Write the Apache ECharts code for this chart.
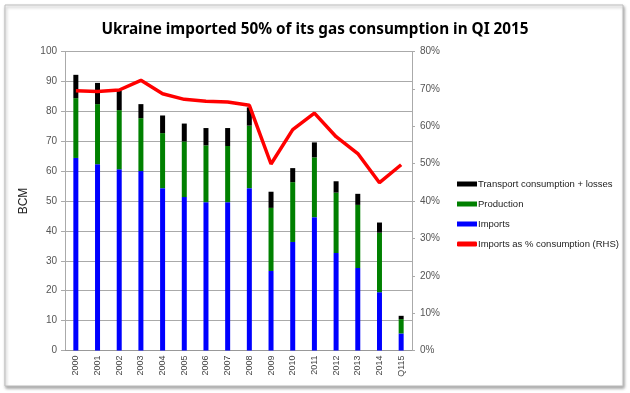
<!DOCTYPE html>
<html><head><meta charset="utf-8">
<script src="https://cdn.jsdelivr.net/npm/echarts@6/dist/echarts.min.js"></script>
<style>html,body{margin:0;padding:0;background:#fff}#c{width:630px;height:393px}</style>
</head><body><div id="c"></div>
<script>
const categories = ['2000','2001','2002','2003','2004','2005','2006','2007','2008','2009','2010','2011','2012','2013','2014','Q115'];
const imports = [64.4,62.3,60.6,60.0,54.3,51.3,49.6,49.6,54.3,26.6,36.3,44.6,32.6,27.6,19.5,5.7];
const production = [20.0,20.1,19.8,17.7,18.4,18.6,19.0,18.8,20.9,21.1,20.0,20.0,20.2,21.1,19.9,4.8];
const transport = [7.8,7.1,6.6,4.7,5.9,6.0,5.8,6.0,6.1,5.4,4.7,5.0,3.8,3.7,3.4,1.1];
const importsPct = [0.695,0.693,0.697,0.723,0.687,0.672,0.667,0.665,0.656,0.499,0.591,0.635,0.572,0.527,0.449,0.497];
const leftTicks = {min:0, max:100, interval:10};
const rightTicks = {min:0, max:0.8, interval:0.1};

const chart = echarts.init(document.getElementById('c'));
const lblFont = 'Liberation Sans';
chart.setOption({
  animation:false,
  backgroundColor:'#fff',
  graphic:[{type:'rect', z:-10, shape:{x:5,y:5,width:618,height:381},
    style:{fill:'#fff', stroke:'#bdbdbd', lineWidth:1, shadowBlur:3, shadowOffsetX:1, shadowOffsetY:2, shadowColor:'rgba(0,0,0,0.35)'}}],
  title:{text:'Ukraine imported 50% of its gas consumption in QI 2015', left:'center', top:17,
    textStyle:{fontFamily:'Noto Sans', fontSize:15.3, fontWeight:'bold', color:'#000'}},
  grid:{left:65, right:218, top:51.5, bottom:42.5},
  legend:{orient:'vertical', left:452, top:174, itemGap:10, itemWidth:20, itemHeight:5,
    textStyle:{fontFamily:lblFont, fontSize:9.5, color:'#222', padding:[0,0,0,-4]},
    data:[{name:'Transport consumption + losses', icon:'rect'},{name:'Production', icon:'rect'},{name:'Imports', icon:'rect'},{name:'Imports as % consumption (RHS)', icon:'roundRect'}]},
  xAxis:{type:'category', data:categories, boundaryGap:true,
    axisLine:{lineStyle:{color:'#999'}}, axisTick:{show:false},
    axisLabel:{rotate:90, fontFamily:lblFont, fontSize:9, color:'#444', margin:5}},
  yAxis:[{type:'value', min:leftTicks.min, max:leftTicks.max, interval:leftTicks.interval,
      name:'BCM', nameLocation:'middle', nameGap:34, nameTextStyle:{fontFamily:lblFont, fontSize:12, color:'#222'},
      axisLine:{show:true, lineStyle:{color:'#aaa'}}, axisTick:{show:true, length:4, lineStyle:{color:'#aaa'}},
      axisLabel:{fontFamily:lblFont, fontSize:10, color:'#555', margin:8},
      splitLine:{lineStyle:{color:'#aaa'}}},
    {type:'value', min:rightTicks.min, max:rightTicks.max, interval:rightTicks.interval, position:'right',
      axisLine:{show:true, lineStyle:{color:'#aaa'}}, axisTick:{show:true, length:3, lineStyle:{color:'#aaa'}},
      axisLabel:{fontFamily:lblFont, fontSize:10, color:'#555', margin:8, formatter:v=>Math.round(v*100)+'%'},
      splitLine:{show:false}}],
  series:[
    {name:'Imports', type:'bar', stack:'s', data:imports, barWidth:5, itemStyle:{color:'#0000ff'}},
    {name:'Production', type:'bar', stack:'s', data:production, barWidth:5, itemStyle:{color:'#008000'}},
    {name:'Transport consumption + losses', type:'bar', stack:'s', data:transport, barWidth:5, itemStyle:{color:'#000'}},
    {name:'Imports as % consumption (RHS)', type:'line', yAxisIndex:1, data:importsPct, symbol:'none',
      lineStyle:{color:'#ff0000', width:3.5}, itemStyle:{color:'#ff0000'}, z:5}
  ]
});
</script></body></html>
